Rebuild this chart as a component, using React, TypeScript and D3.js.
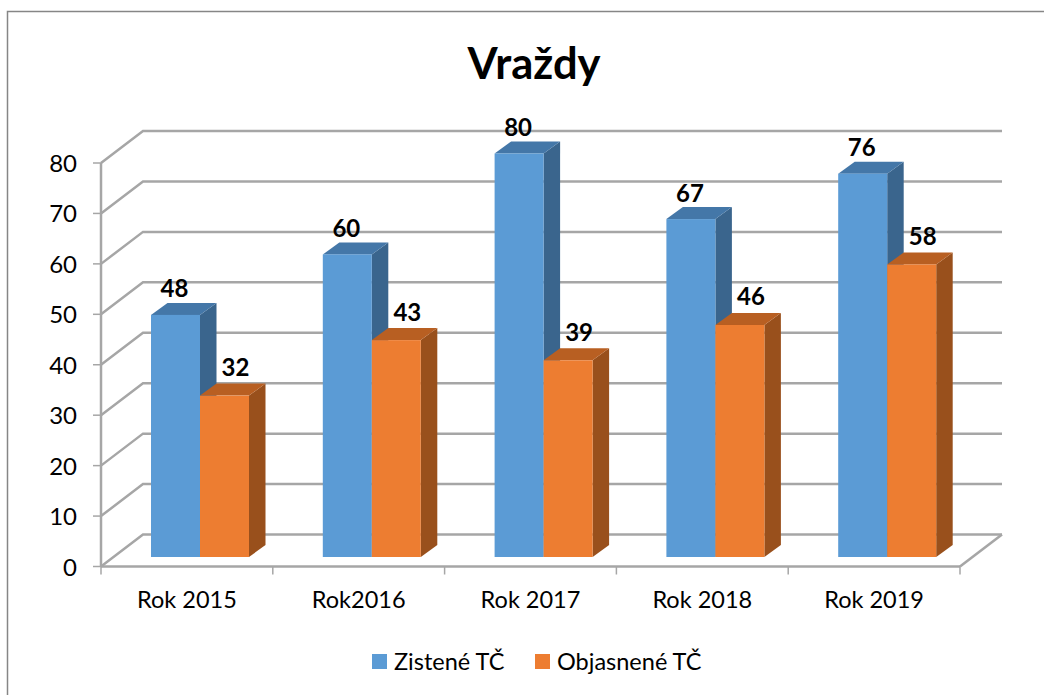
import React from "react";
import * as d3 from "d3";

const title = "Vraždy";
const categories = ["Rok 2015", "Rok2016", "Rok 2017", "Rok 2018", "Rok 2019"];
const zistene = [48, 60, 80, 67, 76];
const objasnene = [32, 43, 39, 46, 58];
const yTicks = [0, 10, 20, 30, 40, 50, 60, 70, 80];
const seriesNames = ["Zistené TČ", "Objasnené TČ"];
const seriesColors = ["#5b9bd5", "#ed7d31"];
const seriesTop = ["#4477a8", "#b85f22"];
const seriesSide = ["#3a658d", "#99501c"];

const font = "Lato, 'Open Sans', sans-serif";
const gridColor = "#a6a6a6";

// front plane of the floor and the offset of the back wall
const x = d3.scaleBand<string>().domain(categories).range([101, 960]);
const y = d3.scaleLinear().domain([0, 80]).range([566.5, 163]);
const depth = { x: 42, y: -32 };
// bars stand a little behind the front plane
const barInset = { x: 0, y: -9.5 };
const barDepth = { x: 16.5, y: -12 };
const barWidth = 49;
const barStart = 50;
// value labels sit differently per series
const labelShift = [{ x: -1, y: -17.5 }, { x: 11, y: -19.5 }];

const poly = (pts: [number, number][]) => d3.line()(pts) + "Z";

function Bar({ x0, value, i }: { x0: number; value: number; i: number }) {
  const x1 = x0 + barWidth;
  const yb = y(0) + barInset.y;
  const yt = y(value) + barInset.y;
  const dx = barDepth.x;
  const dy = barDepth.y;
  return (
    <g>
      <path d={poly([[x1, yt], [x1 + dx, yt + dy], [x1 + dx, yb + dy], [x1, yb]])} fill={seriesSide[i]} />
      <path d={poly([[x0, yt], [x0 + dx, yt + dy], [x1 + dx, yt + dy], [x1, yt]])} fill={seriesTop[i]} />
      <rect x={x0} y={yt} width={barWidth} height={yb - yt} fill={seriesColors[i]} />
      <text
        x={x0 + barWidth / 2 + labelShift[i].x}
        y={yt + labelShift[i].y}
        textAnchor="middle"
        fontFamily={font}
        fontWeight={700}
        fontSize={24}
        fill="#000"
      >
        {value}
      </text>
    </g>
  );
}

export default function App() {
  const left = x.range()[0];
  const right = x.range()[1];
  return (
    <svg
      width={1044}
      height={695}
      style={{ position: "absolute", left: 0, top: 0, background: "#fff" }}
    >
      <rect x={7.5} y={11.5} width={1060} height={700} fill="#fff" stroke="#868686" strokeWidth={1.5} />
      <text x={534} y={79} textAnchor="middle" fontFamily={font} fontWeight={700} fontSize={43.5} fill="#000">
        {title}
      </text>

      {yTicks.map((t) => (
        <g key={t} fill="none" stroke={gridColor} strokeWidth={2.5}>
          <path d={d3.line()([[left, y(t)], [left + depth.x, y(t) + depth.y], [right + depth.x, y(t) + depth.y]]) || ""} />
        </g>
      ))}
      <path
        d={d3.line()([[right, y(0)], [right + depth.x, y(0) + depth.y]]) || ""}
        fill="none"
        stroke={gridColor}
        strokeWidth={2.5}
      />

      {categories.map((c, k) => (
        <g key={c}>
          <Bar x0={(x(c) as number) + barStart} value={zistene[k]} i={0} />
          <Bar x0={(x(c) as number) + barStart + barWidth} value={objasnene[k]} i={1} />
        </g>
      ))}

      <line x1={left} x2={left} y1={y(80)} y2={y(0)} stroke={gridColor} strokeWidth={2.5} />
      <line x1={left} x2={right} y1={y(0)} y2={y(0)} stroke={gridColor} strokeWidth={2.5} />
      {yTicks.map((t) => (
        <g key={t}>
          <line x1={left - 8} x2={left} y1={y(t)} y2={y(t)} stroke={gridColor} strokeWidth={1.5} />
          <text x={77} y={y(t) + 9} textAnchor="end" fontFamily={font} fontSize={24} fill="#000">
            {t}
          </text>
        </g>
      ))}
      {[...categories.map((c) => x(c) as number), right].map((px) => (
        <line key={px} x1={px} x2={px} y1={y(0)} y2={y(0) + 8} stroke={gridColor} strokeWidth={1.5} />
      ))}
      {categories.map((c) => (
        <text
          key={c}
          x={(x(c) as number) + x.bandwidth() / 2}
          y={608}
          textAnchor="middle"
          fontFamily={font}
          fontSize={23.5}
          fill="#000"
        >
          {c}
        </text>
      ))}

      {seriesNames.map((s, i) => {
        const lx = [372, 535][i];
        return (
          <g key={s}>
            <rect x={lx} y={654} width={15} height={15} fill={seriesColors[i]} />
            <text x={lx + 22} y={670} fontFamily={font} fontSize={23.5} fill="#000">
              {s}
            </text>
          </g>
        );
      })}
    </svg>
  );
}
